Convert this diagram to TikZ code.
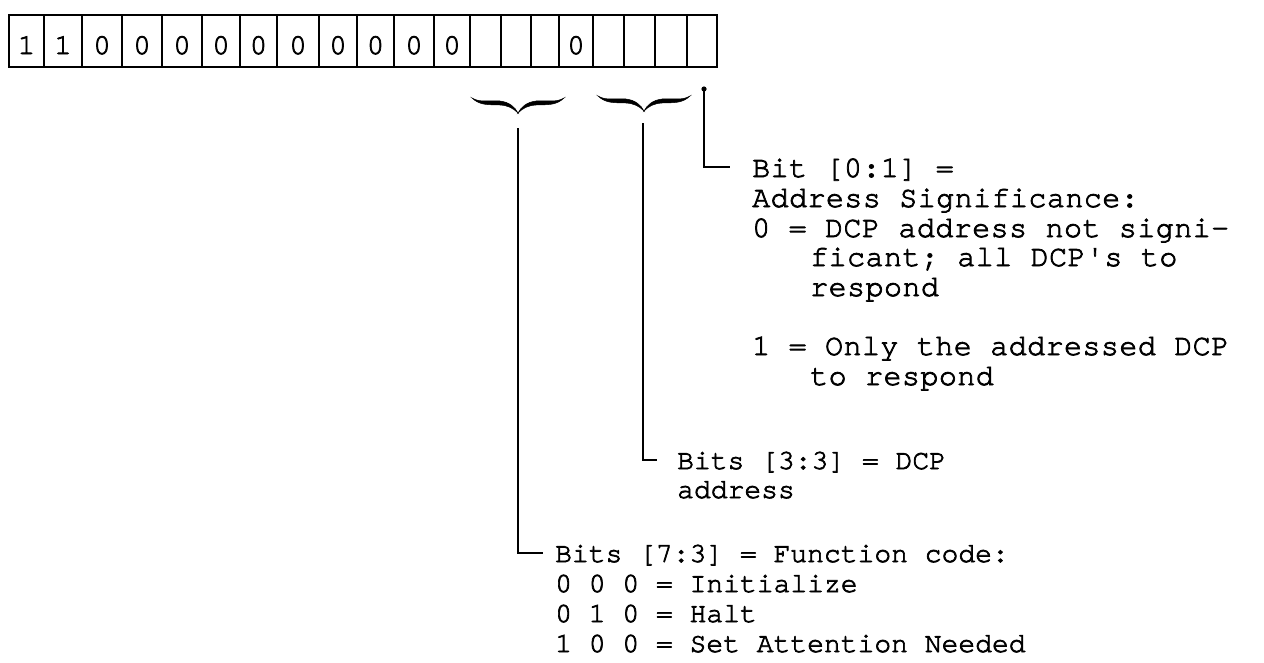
\documentclass[tikz,border=0pt]{standalone}
\usepackage{fontspec}
\newfontfamily\twa{texgyrecursor-regular.otf}[FakeBold=2.5,LetterSpace=1.5,Ligatures=NoCommon]
\newfontfamily\twb{texgyrecursor-regular.otf}[FakeBold=2.5,Ligatures=NoCommon]
\begin{document}
\begin{tikzpicture}[x=1pt,y=-1pt,
  cellbox/.style={draw, line width=2.8pt, minimum height=52pt, inner sep=0pt, rectangle},
  dig/.style={font=\twb\fontsize{29}{30}\selectfont, anchor=base, inner sep=0pt},
  txta/.style={font=\twa\fontsize{30}{30}\selectfont, anchor=base west, inner sep=0pt},
  txtb/.style={font=\twb\fontsize{28}{30}\selectfont, anchor=base west, inner sep=0pt},
  conn/.style={line width=2.6pt, line join=miter},
  ubrace/.pic={
    \filldraw[line width=0.5pt] (-46,-15) .. controls (-38,-10) and (-28,-13) .. (-18,-12)
      .. controls (-9,-11) and (-3,-6) .. (0,0)
      .. controls (-5,-5) and (-10,-7.5) .. (-18,-8)
      .. controls (-28,-8.5) and (-38,-7) .. (-46,-15) -- cycle;
    \filldraw[line width=0.5pt] (46,-15) .. controls (38,-10) and (28,-13) .. (18,-12)
      .. controls (9,-11) and (3,-6) .. (0,0)
      .. controls (5,-5) and (10,-7.5) .. (18,-8)
      .. controls (28,-8.5) and (38,-7) .. (46,-15) -- cycle;
  }]
\useasboundingbox (0,0) rectangle (1264,662);
% bit cells
\foreach \l/\r [count=\i] in {9/44,44/82,82/122,122/162,162/202,202/240,240/277,277/319,319/357,357/394,394/434,434/470,470/501,501/531,531/559,559/593,593/624,624/655,655/687,687/717}{
  \pgfmathsetmacro\w{\r-\l}
  \pgfmathsetmacro\cx{(\l+\r)/2}
  \node[cellbox, minimum width=\w pt] (c\i) at (\cx,41) {};
}
\foreach \i/\d in {1/1,2/1,3/0,4/0,5/0,6/0,7/0,8/0,9/0,10/0,11/0,12/0,16/0}{
  \node[dig] (d\i) at (c\i |- 0,54) {\d};
}
% braces
\pic at (518,113) {ubrace};
\pic at (644,111) {ubrace};
% connector ends
\coordinate (b1) at (518,128);
\coordinate (e1) at (543,553);
\coordinate (b2) at (643,123);
\coordinate (e2) at (657,460);
\coordinate (b3) at (704,89);
\coordinate (e3) at (730,167);
\draw[conn] (b1) |- (e1);
\draw[conn] (b2) |- (e2);
\draw[conn] (b3) |- (e3);
\fill (b3) circle (2.6pt);
% texts
\node[txta] (t1) at (752,177) {Bit [0:1] =};
\node[txta] (t2) at (752,207) {Address Significance:};
\node[txta] (t3) at (752,237) {0 = DCP address not signi-};
\node[txta] (t4) at (810,266) {ficant; all DCP's to};
\node[txta] (t5) at (810,296) {respond};
\node[txta] (t6) at (752,355) {1 = Only the addressed DCP};
\node[txta] (t7) at (810,385) {to respond};
\node[txtb] (t8) at (677,469) {Bits [3:3] = DCP};
\node[txtb] (t9) at (677,498) {address};
\node[txtb] (t10) at (555,562) {Bits [7:3] = Function code:};
\node[txtb] (t11) at (555,592) {0 0 0 = Initialize};
\node[txtb] (t12) at (555,622) {0 1 0 = Halt};
\node[txtb] (t13) at (555,652) {1 0 0 = Set Attention Needed};
\end{tikzpicture}
\end{document}
